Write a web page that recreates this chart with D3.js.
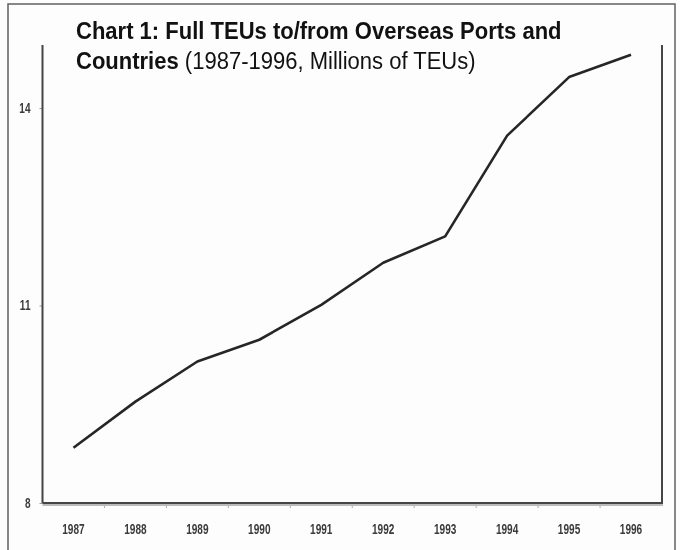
<!DOCTYPE html>
<html>
<head>
<meta charset="utf-8">
<script src="https://cdn.jsdelivr.net/npm/d3@7"></script>
<style>
  html, body { margin: 0; padding: 0; background: #fdfdfd; }
  svg { display: block; }
</style>
</head>
<body>
<svg id="chart" width="680" height="550"></svg>
<script>
// Full TEUs to/from overseas ports and countries, millions of TEUs
const years = ["1987", "1988", "1989", "1990", "1991", "1992", "1993", "1994", "1995", "1996"];
const teus = [8.84, 9.54, 10.15, 10.48, 11.01, 11.65, 12.05, 13.58, 14.47, 14.81];
const yTicks = [8, 11, 14];
const titleLine1 = "Chart 1: Full TEUs to/from Overseas Ports and";
const titleBold2 = "Countries";
const titleRest2 = " (1987-1996, Millions of TEUs)";

const svg = d3.select("#chart");
const font = "'Liberation Sans', Arial, sans-serif";

const plot = { left: 42.5, right: 662, top: 45, bottom: 503 };

const x = d3.scaleBand().domain(years).range([plot.left, plot.right]).padding(0);
const y = d3.scaleLinear().domain([8, 15]).range([plot.bottom, 42.2]);

const soft = svg.append("defs").append("filter").attr("id", "soft")
  .attr("x", "-5%").attr("y", "-5%").attr("width", "110%").attr("height", "110%");
soft.append("feGaussianBlur").attr("stdDeviation", 0.5);

// outer frame
svg.append("rect")
  .attr("x", 8).attr("y", 4).attr("width", 667).attr("height", 570)
  .attr("fill", "none").attr("stroke", "#6a6a6a").attr("stroke-width", 1.6);

const g = svg.append("g").attr("filter", "url(#soft)");

// right-hand frame line of the plot
g.append("line")
  .attr("x1", plot.right).attr("x2", plot.right)
  .attr("y1", plot.top).attr("y2", plot.bottom + 1)
  .attr("stroke", "#444").attr("stroke-width", 2);

// squeeze text horizontally about its anchor x
function condense(sel, sx) {
  sel.each(function () {
    const t = d3.select(this);
    const tx = +t.attr("x") || 0;
    t.attr("transform", `translate(${tx},0) scale(${sx},1) translate(${-tx},0)`);
  });
}

// x axis
const xAxis = g.append("g")
  .attr("transform", `translate(0,${plot.bottom})`)
  .call(d3.axisBottom(x).tickSize(0).tickPadding(21));
xAxis.select(".domain").remove();
xAxis.selectAll("text")
  .attr("font-family", font).attr("font-size", 14).attr("font-weight", "bold")
  .attr("fill", "#3a3a3a")
  .attr("transform", "scale(0.72,1)");

// tick marks on band boundaries
g.append("g").selectAll("line")
  .data(years.slice(1))
  .join("line")
  .attr("x1", d => x(d)).attr("x2", d => x(d))
  .attr("y1", plot.bottom + 1).attr("y2", plot.bottom + 5)
  .attr("stroke", "#aaa").attr("stroke-width", 1);

// y axis
const yAxis = g.append("g")
  .attr("transform", `translate(${plot.left},0)`)
  .call(d3.axisLeft(y).tickValues(yTicks).tickSize(3).tickPadding(9).tickFormat(d3.format("d")));
yAxis.select(".domain").remove();
yAxis.selectAll(".tick line").attr("stroke", "#999");
yAxis.selectAll("text")
  .attr("font-family", font).attr("font-size", 14).attr("font-weight", "bold")
  .attr("fill", "#3a3a3a");
condense(yAxis.selectAll("text"), 0.72);

// axis lines with a light shadow below
g.append("line")
  .attr("x1", plot.left).attr("x2", plot.right + 1)
  .attr("y1", plot.bottom + 2).attr("y2", plot.bottom + 2)
  .attr("stroke", "#bbb").attr("stroke-width", 2);
g.append("line")
  .attr("x1", plot.left).attr("x2", plot.right + 1)
  .attr("y1", plot.bottom).attr("y2", plot.bottom)
  .attr("stroke", "#444").attr("stroke-width", 2);
g.append("line")
  .attr("x1", plot.left).attr("x2", plot.left)
  .attr("y1", plot.top).attr("y2", plot.bottom)
  .attr("stroke", "#444").attr("stroke-width", 2);

// data line
const line = d3.line()
  .x((d, i) => x(years[i]) + x.bandwidth() / 2)
  .y(d => y(d));
g.append("path")
  .datum(teus)
  .attr("d", line)
  .attr("fill", "none")
  .attr("stroke", "#262626")
  .attr("stroke-width", 2.6)
  .attr("stroke-linejoin", "round");

// title in a tall, condensed setting
const title = svg.append("g").attr("font-family", font).attr("fill", "#111").attr("font-size", 24);
const t1 = title.append("text")
  .attr("x", 76).attr("y", 39)
  .attr("font-weight", "bold")
  .text(titleLine1);
const t2 = title.append("text")
  .attr("x", 76).attr("y", 69);
t2.append("tspan").attr("font-weight", "bold").text(titleBold2);
t2.append("tspan").text(titleRest2);

const sx = 486 / t1.node().getComputedTextLength();
condense(t1, sx);
condense(t2, sx);
</script>
</body>
</html>
